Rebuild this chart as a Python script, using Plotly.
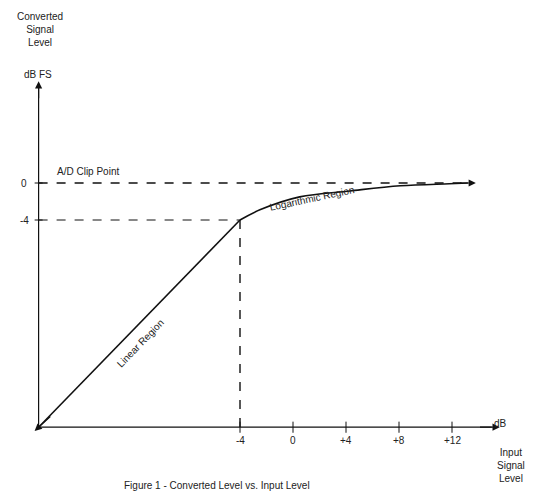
import plotly.graph_objects as go

# Data (dB)
origin = (-19.2, -26.4)
linear_x = [-19.2, -4.0]
linear_y = [-26.4, -4.0]
log_x = [-4.0, -2.5, 0.5, 4.3, 8.1, 11.8, 13.2]
log_y = [-4.0, -2.9, -1.5, -0.86, -0.3, -0.08, 0.0]
xtick_vals = [-4, 0, 4, 8, 12]
xtick_text = ["-4", "0", "+4", "+8", "+12"]
ytick_vals = [0, -4]
ytick_text = ["0", "-4"]

OFF = 8  # page body margin
W, H = 540, 496
F = dict(family="Liberation Sans, Arial", size=10, color="#222")
fig = go.Figure()
k = "#111"
fig.add_trace(go.Scatter(x=linear_x, y=linear_y, mode="lines", line=dict(color=k, width=1.6)))
fig.add_trace(go.Scatter(x=log_x, y=log_y, mode="lines", line=dict(color=k, width=1.6, shape="spline")))
fig.add_trace(go.Scatter(x=[origin[0], 13.2], y=[0, 0], mode="lines", line=dict(color=k, width=1.6, dash="dash")))
fig.add_trace(go.Scatter(x=[origin[0], -4], y=[-4, -4], mode="lines", line=dict(color=k, width=1, dash="dash")))
fig.add_trace(go.Scatter(x=[-4, -4], y=[-4, origin[1]], mode="lines", line=dict(color=k, width=1.4, dash="dash")))
fig.add_trace(go.Scatter(x=[origin[0], 15.0], y=[origin[1]]*2, mode="lines", line=dict(color=k, width=1.2)))
fig.add_trace(go.Scatter(x=[origin[0]]*2, y=[origin[1], 10.4], mode="lines", line=dict(color=k, width=1.2)))

ann = []
def arrow(x, y, ax, ay):
    ann.append(dict(x=x, y=y, ax=ax, ay=ay, xref="x", yref="y", axref="x", ayref="y",
                    showarrow=True, arrowhead=2, arrowsize=1.2, arrowwidth=1.2, arrowcolor=k, text=""))
arrow(15.6, origin[1], 14.0, origin[1])
arrow(origin[0], 11.0, origin[0], 9.0)
arrow(13.8, 0, 12.5, 0)
arrow(origin[0] - 0.3, origin[1] - 0.4, origin[0] + 1.0, origin[1] + 1.3)

shapes = []
for v, t in zip(xtick_vals, xtick_text):
    shapes.append(dict(type="line", x0=v, x1=v, y0=origin[1] - 0.6, y1=origin[1] + 0.6, line=dict(color=k, width=1)))
    ann.append(dict(x=v, y=origin[1] - 1.4, text=t, showarrow=False, font=F))
for v, t in zip(ytick_vals, ytick_text):
    shapes.append(dict(type="line", x0=origin[0] - 0.3, x1=origin[0] + 0.3, y0=v, y1=v, line=dict(color=k, width=1)))
    ann.append(dict(x=origin[0] - 1.1, y=v, text=t, showarrow=False, font=F))

def txt(px, py, t, angle=0, xanchor="center"):
    px -= OFF; py -= OFF
    ann.append(dict(x=px/W, y=1-py/H, xref="paper", yref="paper", text=t, showarrow=False,
                    font=F, textangle=angle, xanchor=xanchor, yanchor="middle"))
txt(40, 30, "Converted<br>Signal<br>Level")
txt(38, 74, "dB FS")
txt(55, 172, "A/D Clip Point", xanchor="left")
txt(312, 199, "Logarithmic Region", angle=-12)
txt(140, 343, "Linear Region", angle=-46)
txt(500, 423, "dB")
txt(511, 465, "Input<br>Signal<br>Level")
txt(217, 485, "Figure 1 - Converted Level vs. Input Level")

sx, sy = 13.25, 9.25
x0 = -(293 - OFF) / sx
y1 = (183 - OFF) / sy
fig.update_layout(width=W, height=H, margin=dict(l=0, r=0, t=0, b=0), showlegend=False,
                  plot_bgcolor="white", paper_bgcolor="white", annotations=ann, shapes=shapes,
                  xaxis=dict(range=[x0, x0 + W / sx], visible=False),
                  yaxis=dict(range=[y1 - H / sy, y1], visible=False))
fig.write_html("out.html")
